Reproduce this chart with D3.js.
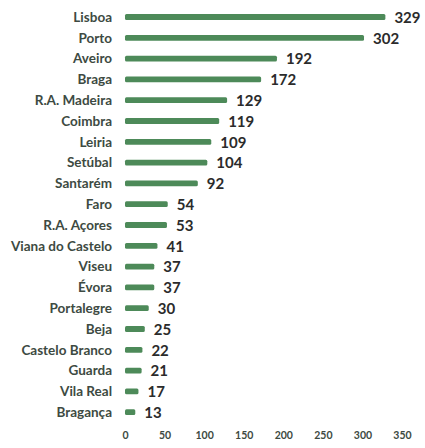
<!DOCTYPE html>
<html>
<head>
<meta charset="utf-8">
<script src="https://cdn.jsdelivr.net/npm/d3@7"></script>
<style>
  body { margin: 0; background: #fff; }
  .cat { font-family: Lato, "Open Sans", sans-serif; font-size: 13.5px; font-weight: bold; fill: #3d4a42; }
  .val { font-family: Lato, "Open Sans", sans-serif; font-size: 15px; font-weight: bold; fill: #2b2b2b; }
  .x-axis text { font-family: Lato, "Open Sans", sans-serif; font-size: 10.5px; font-weight: bold; fill: #3d4a42; }
</style>
</head>
<body>
<div id="chart"></div>
<script>
// Dados
const regioes = ['Lisboa', 'Porto', 'Aveiro', 'Braga', 'R.A. Madeira', 'Coimbra', 'Leiria', 'Setúbal',
  'Santarém', 'Faro', 'R.A. Açores', 'Viana do Castelo', 'Viseu', 'Évora', 'Portalegre', 'Beja',
  'Castelo Branco', 'Guarda', 'Vila Real', 'Bragança'];
const valores = [329, 302, 192, 172, 129, 119, 109, 104, 92, 54, 53, 41, 37, 37, 30, 25, 22, 21, 17, 13];
const ticksX = [0, 50, 100, 150, 200, 250, 300, 350];

const width = 425, height = 448;

const svg = d3.select('#chart').append('svg')
  .attr('width', width)
  .attr('height', height);

const x = d3.scaleLinear().domain([0, 350]).range([125, 402]);
const y = d3.scaleBand().domain(regioes)
  .range([6.6, 422.6])
  .paddingInner(0.72).paddingOuter(0.36);

const data = regioes.map((r, i) => ({ regiao: r, valor: valores[i] }));

// barras
svg.selectAll('.bar').data(data).enter()
  .append('rect')
  .attr('class', 'bar')
  .attr('x', x(0))
  .attr('y', d => y(d.regiao))
  .attr('width', d => x(d.valor) - x(0))
  .attr('height', y.bandwidth())
  .attr('rx', 1.5)
  .attr('fill', '#4d8a59');

// nomes das regiões
svg.selectAll('.cat').data(data).enter()
  .append('text')
  .attr('class', 'cat')
  .attr('x', x(0) - 13)
  .attr('y', d => y(d.regiao) + y.bandwidth() / 2)
  .attr('dy', '0.35em')
  .attr('text-anchor', 'end')
  .text(d => d.regiao);

// valores
svg.selectAll('.val').data(data).enter()
  .append('text')
  .attr('class', 'val')
  .attr('x', d => x(d.valor) + 9)
  .attr('y', d => y(d.regiao) + y.bandwidth() / 2)
  .attr('dy', '0.38em')
  .text(d => d.valor);

// eixo x
const xAxis = d3.axisBottom(x).tickValues(ticksX).tickSize(0).tickPadding(0);
svg.append('g')
  .attr('class', 'axis x-axis')
  .attr('transform', 'translate(0, 432)')
  .call(xAxis)
  .call(g => g.select('.domain').remove());
</script>
</body>
</html>
